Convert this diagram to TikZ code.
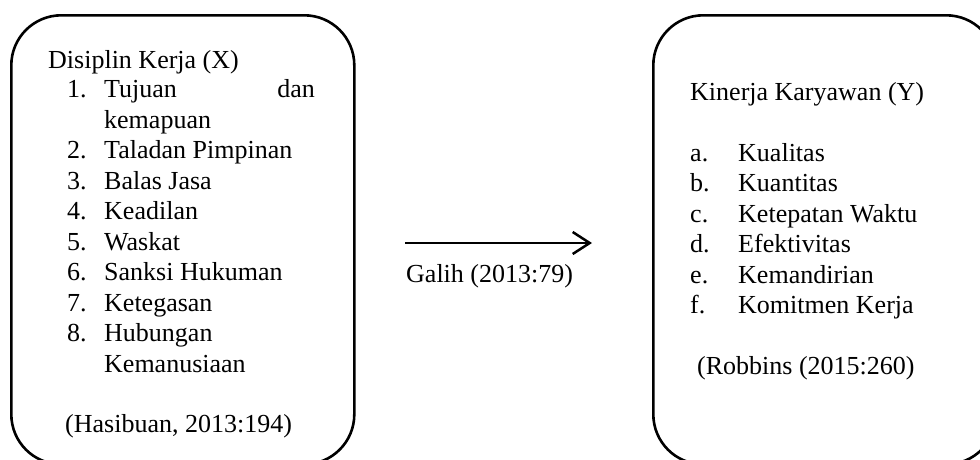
\documentclass[tikz,border=0pt]{standalone}
\usepackage{fontspec}
\setmainfont{Liberation Serif}
\usetikzlibrary{arrows.meta}
\begin{document}
\begin{tikzpicture}[x=1pt,y=-1pt,
  box/.style={draw,line width=2.6pt,rounded corners=50pt,minimum width=343pt,minimum height=449pt,anchor=north west,inner sep=0pt},
  txt/.style={anchor=base west,inner sep=0pt,font=\fontsize{26}{30}\selectfont},
  txtr/.style={anchor=base east,inner sep=0pt,font=\fontsize{26}{30}\selectfont},
  conn/.style={line width=2.5pt,-{Straight Barb[length=17pt,width=22pt]}}]
\useasboundingbox (0,0) rectangle (980,459);
\clip (0,0) rectangle (980,459);
% boxes
\node[box] (L) at (10,14) {};
\node[box] (R) at (652,14) {};
% left text
\node[txt] (lt) at (48,68) {Disiplin Kerja (X)};
\node[txt] (n1) at (67,97.5) {1.};
\node[txt] (i1a) at (104,97.5) {Tujuan};
\node[txtr] (i1b) at (315,97.5) {dan};
\node[txt] (i1c) at (104,128) {kemapuan};
\node[txt] (n2) at (67,158.5) {2.};
\node[txt] (i2) at (104,158.5) {Taladan Pimpinan};
\node[txt] (n3) at (67,189) {3.};
\node[txt] (i3) at (104,189) {Balas Jasa};
\node[txt] (n4) at (67,219.5) {4.};
\node[txt] (i4) at (104,219.5) {Keadilan};
\node[txt] (n5) at (67,250) {5.};
\node[txt] (i5) at (104,250) {Waskat};
\node[txt] (n6) at (67,280.5) {6.};
\node[txt] (i6) at (104,280.5) {Sanksi Hukuman};
\node[txt] (n7) at (67,311) {7.};
\node[txt] (i7) at (104,311) {Ketegasan};
\node[txt] (n8) at (67,341.5) {8.};
\node[txt] (i8a) at (104,341.5) {Hubungan};
\node[txt] (i8b) at (104,372.5) {Kemanusiaan};
\node[txt] (ls) at (65,432) {(Hasibuan, 2013:194)};
% right text
\node[txt] (rt) at (690,100) {Kinerja Karyawan (Y)};
\node[txt] (ra) at (690,161) {a.};
\node[txt] (rai) at (738,161) {Kualitas};
\node[txt] (rb) at (690,191.5) {b.};
\node[txt] (rbi) at (738,191.5) {Kuantitas};
\node[txt] (rc) at (690,222) {c.};
\node[txt] (rci) at (738,222) {Ketepatan Waktu};
\node[txt] (rd) at (690,252.5) {d.};
\node[txt] (rdi) at (738,252.5) {Efektivitas};
\node[txt] (re) at (690,283) {e.};
\node[txt] (rei) at (738,283) {Kemandirian};
\node[txt] (rf) at (690,313.5) {f.};
\node[txt] (rfi) at (738,313.5) {Komitmen Kerja};
\node[txt] (rs) at (697,374) {(Robbins (2015:260)};
% arrow
\coordinate (as) at (405,243);
\coordinate (ae) at (592,243);
\draw[conn] (as) -- (ae);
\node[txt] (lab) at (406,282) {Galih (2013:79)};
\end{tikzpicture}
\end{document}
